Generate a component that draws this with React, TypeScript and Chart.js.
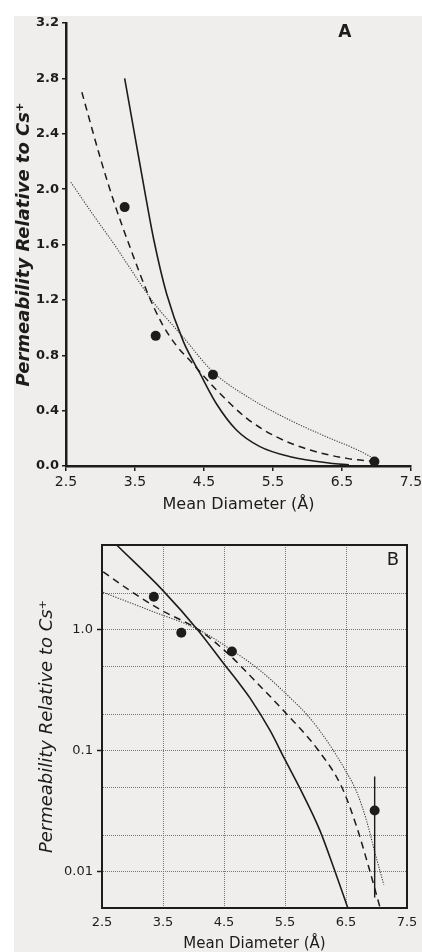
import { useEffect, useRef } from 'react';
import { Chart, registerables } from 'chart.js';

Chart.register(...registerables);

// ---------- data ----------
const xTicks = [2.5, 3.5, 4.5, 5.5, 6.5, 7.5];
const yTicksA = [0, 0.4, 0.8, 1.2, 1.6, 2.0, 2.4, 2.8, 3.2];
const yGridB = [0.005, 0.01, 0.02, 0.05, 0.1, 0.2, 0.5, 1, 2, 5];
const yLabelsB = [0.01, 0.1, 1];

// measured permeabilities
const pointX = [3.35, 3.8, 4.63, 6.97];
const pointY = [1.87, 0.94, 0.66, 0.032];
const errX = [6.97, 6.97];
const errY = [0.061, 0.0061];

// panel A curves (linear scale)
const solidAX = [3.35, 3.5, 3.65, 3.77, 3.96, 4.2, 4.44, 4.68, 4.97, 5.31, 5.75, 6.33, 6.6];
const solidAY = [2.8, 2.38, 1.96, 1.64, 1.24, 0.9, 0.67, 0.45, 0.26, 0.14, 0.067, 0.02, 0.008];
const dashedAX = [2.73, 3.0, 3.2, 3.45, 3.69, 3.9, 4.1, 4.3, 4.68, 5.12, 5.55, 6.04, 6.57, 7.0];
const dashedAY = [2.7, 2.22, 1.9, 1.55, 1.24, 1.02, 0.87, 0.76, 0.55, 0.344, 0.21, 0.115, 0.055, 0.03];
const dottedAX = [2.57, 2.9, 3.2, 3.4, 3.77, 4.2, 4.63, 5.21, 5.75, 6.28, 6.71, 7.0];
const dottedAY = [2.05, 1.81, 1.6, 1.45, 1.18, 0.93, 0.68, 0.476, 0.33, 0.21, 0.12, 0.045];

// panel B curves (log scale)
const solidBX = [2.74, 3.5, 4.08, 4.5, 4.73, 4.93, 5.25, 5.5, 5.77, 6.07, 6.3, 6.53];
const solidBY = [5.0, 2.1, 0.98, 0.52, 0.37, 0.27, 0.148, 0.084, 0.046, 0.022, 0.0107, 0.005];
const dashedBX = [2.52, 3.04, 3.48, 4.08, 4.57, 4.98, 5.53, 6.03, 6.43, 6.68, 6.87, 7.06];
const dashedBY = [3.0, 1.97, 1.44, 1.0, 0.63, 0.39, 0.2, 0.103, 0.05, 0.023, 0.011, 0.005];
const dottedBX = [2.52, 3.3, 4.08, 4.6, 5.09, 5.5, 5.91, 6.24, 6.48, 6.68, 6.84, 6.98, 7.12];
const dottedBY = [2.03, 1.43, 1.0, 0.69, 0.46, 0.3, 0.185, 0.11, 0.07, 0.045, 0.026, 0.014, 0.0078];

const xTitle = 'Mean Diameter (Å)';
const yTitle = 'Permeability Relative to Cs⁺';

// ---------- styling ----------
const INK = '#1c1c1c';
const FONT = "'DejaVu Sans', 'Noto Sans', sans-serif";
const font = (size: number, weight = 'normal', style = 'normal') => ({ family: FONT, size, weight, style, lineHeight: 1 });

const curve = (xs: number[], ys: number[], extra: any) => ({
  data: xs.map((x, i) => ({ x, y: ys[i] })),
  showLine: true,
  pointRadius: 0,
  fill: false,
  cubicInterpolationMode: 'monotone',
  borderColor: INK,
  borderWidth: 1.6,
  ...extra,
});

const dots = (xs: number[], ys: number[]) => ({
  data: xs.map((x, i) => ({ x, y: ys[i] })),
  showLine: false,
  pointRadius: 5,
  pointBackgroundColor: INK,
  pointBorderWidth: 0,
  backgroundColor: INK,
});

const letterPlugin = {
  id: 'panelLetter',
  afterDraw(chart: any, _args: any, opts: any) {
    const { ctx, scales } = chart;
    ctx.save();
    ctx.font = `${opts.weight} ${opts.size}px ${FONT}`;
    ctx.fillStyle = INK;
    ctx.textAlign = 'center';
    ctx.textBaseline = 'middle';
    ctx.fillText(opts.text, scales.x.getPixelForValue(opts.x), scales.y.getPixelForValue(opts.y));
    ctx.restore();
  },
};

const framePlugin = {
  id: 'frameBox',
  afterDraw(chart: any) {
    const { ctx, chartArea: a } = chart;
    ctx.save();
    ctx.strokeStyle = INK;
    ctx.lineWidth = 2;
    ctx.strokeRect(a.left, a.top, a.right - a.left, a.bottom - a.top);
    ctx.restore();
  },
};

const fitX = (h: number) => (s: any) => {
  s.height = h;
  s.paddingLeft = 0;
  s.paddingRight = 0;
};

function configA(): any {
  return {
    type: 'scatter',
    data: {
      datasets: [
        dots(pointX, pointY),
        curve(solidAX, solidAY, {}),
        curve(dashedAX, dashedAY, { borderDash: [7, 5], borderWidth: 1.5 }),
        curve(dottedAX, dottedAY, { borderDash: [1.2, 1.4], borderWidth: 1.1, borderColor: '#3a3a3a' }),
      ],
    },
    plugins: [letterPlugin],
    options: {
      responsive: false,
      animation: false,
      layout: { padding: { top: 23, right: 11, left: 0, bottom: 0 } },
      plugins: {
        legend: { display: false },
        tooltip: { enabled: false },
        panelLetter: { text: 'A', x: 6.54, y: 3.13, size: 17, weight: 'bold' },
      },
      scales: {
        x: {
          type: 'linear',
          min: 2.5,
          max: 7.5,
          afterBuildTicks: (s: any) => { s.ticks = xTicks.map((v) => ({ value: v })); },
          afterFit: fitX(54),
          grid: { drawOnChartArea: false, tickLength: 5, color: INK, lineWidth: 1.5 },
          border: { color: INK, width: 2.5 },
          ticks: { padding: 4, color: INK, font: font(14), maxRotation: 0, callback: (v: number) => v.toFixed(1) },
          title: { display: true, text: xTitle, color: INK, font: font(16), padding: { top: 0, bottom: 7 } },
        },
        y: {
          type: 'linear',
          min: 0,
          max: 3.2,
          afterBuildTicks: (s: any) => { s.ticks = yTicksA.map((v) => ({ value: v })); },
          afterFit: (s: any) => { s.width = 66; },
          grid: { drawOnChartArea: false, tickLength: 4, color: INK, lineWidth: 1.5 },
          border: { color: INK, width: 2.5 },
          ticks: { padding: 3, color: INK, font: font(13, 'bold'), callback: (v: number) => v.toFixed(1) },
          title: { display: true, text: yTitle, color: INK, font: font(18, 'bold', 'italic'), padding: { top: 15, bottom: 0 } },
        },
      },
    },
  };
}

function configB(): any {
  return {
    type: 'scatter',
    data: {
      datasets: [
        dots(pointX, pointY),
        curve(errX, errY, { cubicInterpolationMode: 'default', borderWidth: 1.4 }),
        curve(solidBX, solidBY, {}),
        curve(dashedBX, dashedBY, { borderDash: [7, 5], borderWidth: 1.5 }),
        curve(dottedBX, dottedBY, { borderDash: [1.2, 1.4], borderWidth: 1.1, borderColor: '#3a3a3a' }),
      ],
    },
    plugins: [letterPlugin, framePlugin],
    options: {
      responsive: false,
      animation: false,
      layout: { padding: { top: 25, right: 15, left: 0, bottom: 0 } },
      plugins: {
        legend: { display: false },
        tooltip: { enabled: false },
        panelLetter: { text: 'B', x: 7.27, y: 3.72, size: 18, weight: 'normal' },
      },
      scales: {
        x: {
          type: 'linear',
          min: 2.5,
          max: 7.5,
          afterBuildTicks: (s: any) => { s.ticks = xTicks.map((v) => ({ value: v })); },
          afterFit: fitX(44),
          grid: { drawOnChartArea: true, drawTicks: false, color: '#777', lineWidth: 1 },
          border: { color: INK, width: 2, dash: [1, 1] },
          ticks: { padding: 8, color: INK, font: font(13), maxRotation: 0, callback: (v: number) => v.toFixed(1) },
          title: { display: true, text: xTitle, color: INK, font: font(15), padding: { top: 0, bottom: 0 } },
        },
        y: {
          type: 'logarithmic',
          min: 0.005,
          max: 5,
          afterBuildTicks: (s: any) => { s.ticks = yGridB.map((v) => ({ value: v })); },
          afterFit: (s: any) => { s.width = 102; },
          grid: {
            drawOnChartArea: true,
            tickLength: 5,
            color: '#777',
            lineWidth: 1,
            tickColor: (c: any) => (c.tick && yLabelsB.includes(c.tick.value) ? INK : 'rgba(0,0,0,0)'),
            tickWidth: 1.5,
          },
          border: { color: INK, width: 2, dash: [1, 1] },
          ticks: {
            padding: 4,
            color: INK,
            font: font(13),
            autoSkip: false,
            callback: (v: number) => (yLabelsB.includes(v) ? (v >= 1 ? v.toFixed(1) : String(v)) : ''),
          },
          title: { display: true, text: yTitle, color: INK, font: font(18, 'normal', 'italic'), padding: { top: 38, bottom: 0 } },
        },
      },
    },
  };
}

export default function App() {
  const refA = useRef<HTMLCanvasElement | null>(null);
  const refB = useRef<HTMLCanvasElement | null>(null);

  useEffect(() => {
    const a = new Chart(refA.current as HTMLCanvasElement, configA());
    const b = new Chart(refB.current as HTMLCanvasElement, configB());
    return () => {
      a.destroy();
      b.destroy();
    };
  }, []);

  return (
    <div style={{ position: 'absolute', left: 0, top: 0, width: 422, height: 952, background: '#ffffff', overflow: 'hidden' }}>
      <div style={{ position: 'absolute', left: 14, top: 16, width: 408, height: 936, background: '#efeeec' }} />
      <canvas ref={refA} width={422} height={520} style={{ position: 'absolute', left: 0, top: 0, width: 422, height: 520 }} />
      <canvas ref={refB} width={422} height={432} style={{ position: 'absolute', left: 0, top: 520, width: 422, height: 432 }} />
    </div>
  );
}
